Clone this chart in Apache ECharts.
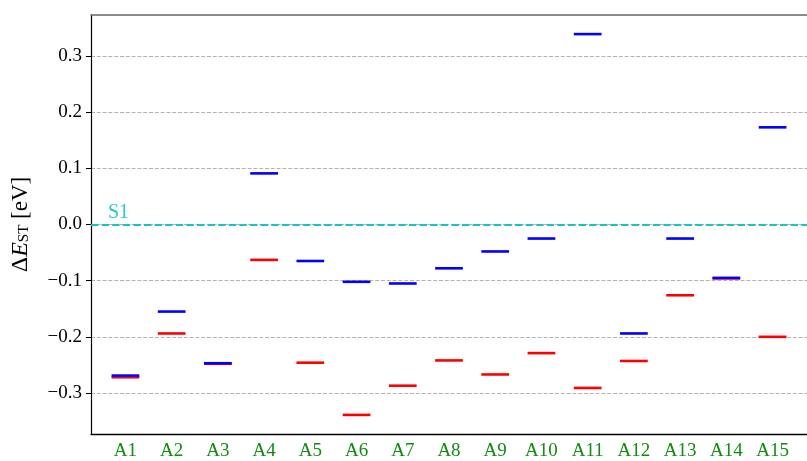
<!DOCTYPE html>
<html>
<head>
<meta charset="utf-8">
<script src="https://cdn.jsdelivr.net/npm/echarts@6/dist/echarts.min.js"></script>
<style>
  html, body { margin: 0; padding: 0; background: #fff; }
  #chart { width: 807px; height: 461px; }
</style>
</head>
<body>
<div id="chart"></div>
<script>
// Singlet–triplet gaps (eV) per structure
const categories = ['A1','A2','A3','A4','A5','A6','A7','A8','A9','A10','A11','A12','A13','A14','A15'];
const blueValues = [-0.269, -0.155, -0.247, 0.091, -0.065, -0.102, -0.105, -0.078, -0.048, -0.025, 0.339, -0.194, -0.025, -0.095, 0.173];
const redValues  = [-0.272, -0.194, -0.248, -0.063, -0.246, -0.339, -0.287, -0.242, -0.267, -0.229, -0.291, -0.243, -0.126, -0.096, -0.200];
const yTicks = [-0.3, -0.2, -0.1, 0.0, 0.1, 0.2, 0.3];
const refLevel = 0.0;
const refName = 'S1';

const FONT = 'Liberation Serif';
const HALF = 0.3; // half length of each level segment, in category units

const xPos = categories.map((c, i) => i + 1);

function levelSeries(values, color, z) {
  return {
    type: 'custom',
    z: z,
    data: values.map((v, i) => [xPos[i], v]),
    encode: { x: 0, y: 1 },
    renderItem: function (params, api) {
      const x = api.value(0), y = api.value(1);
      const p1 = api.coord([x - HALF, y]);
      const p2 = api.coord([x + HALF, y]);
      return {
        type: 'line',
        shape: { x1: p1[0], y1: p1[1], x2: p2[0], y2: p2[1] },
        style: { stroke: color, lineWidth: 2.6 }
      };
    }
  };
}

const chart = echarts.init(document.getElementById('chart'), null, { renderer: 'canvas' });

chart.setOption({
  animation: false,
  backgroundColor: '#ffffff',
  grid: { left: 91, top: 15, width: 727, height: 422, containLabel: false },
  xAxis: [
    {
      type: 'value',
      min: 0.255,
      max: 15.745,
      position: 'bottom',
      axisLine: { show: true, onZero: false, lineStyle: { color: '#000', width: 1.3 } },
      axisTick: { show: false },
      splitLine: { show: false },
      axisLabel: {
        customValues: xPos,
        formatter: function (v) { return categories[Math.round(v) - 1] || ''; },
        color: '#138a13',
        fontFamily: FONT,
        fontSize: 19,
        margin: 8
      }
    },
    {
      type: 'value',
      min: 0.255,
      max: 15.745,
      position: 'top',
      axisLine: { show: true, onZero: false, lineStyle: { color: '#666', width: 1.5 } },
      axisTick: { show: false },
      axisLabel: { show: false },
      splitLine: { show: false }
    }
  ],
  yAxis: {
    type: 'value',
    min: -0.373,
    max: 0.373,
    axisLine: { show: true, onZero: false, lineStyle: { color: '#000', width: 1.2 } },
    axisTick: { show: true, customValues: yTicks, length: 5, lineStyle: { color: '#000', width: 1 } },
    axisLabel: {
      customValues: yTicks,
      formatter: function (v) {
        const s = Math.abs(v).toFixed(1);
        return (v < -1e-9 ? '\u2212' : '') + s;
      },
      color: '#000',
      fontFamily: FONT,
      fontSize: 19,
      margin: 9
    },
    splitLine: {
      show: true,
      lineStyle: { color: '#b4b4b4', width: 1, type: [4, 1.8] }
    },
    name: '{d|\u0394}{e|E}{s|ST} [eV]',
    nameLocation: 'middle',
    nameRotate: 90,
    nameGap: 58,
    nameTextStyle: {
      color: '#000',
      fontFamily: FONT,
      fontSize: 23,
      rich: {
        d: { fontFamily: FONT, fontSize: 24, color: '#000' },
        e: { fontFamily: FONT, fontSize: 24, fontStyle: 'italic', color: '#000' },
        s: { fontFamily: FONT, fontSize: 15, color: '#000', padding: [7, 0, 0, 0] }
      }
    }
  },
  series: [
    {
      type: 'line',
      data: [],
      markLine: {
        silent: true,
        symbol: 'none',
        z: 1,
        lineStyle: { color: '#17c4c4', width: 2, type: [7.4, 3.2] },
        label: {
          show: true,
          position: 'insideStartTop',
          formatter: refName,
          color: '#2ec6c6',
          fontFamily: FONT,
          fontSize: 20,
          distance: [17, 2]
        },
        data: [{ yAxis: refLevel }]
      }
    },
    levelSeries(redValues, '#ff0000', 3),
    levelSeries(blueValues, '#0000ff', 4)
  ]
});
</script>
</body>
</html>
